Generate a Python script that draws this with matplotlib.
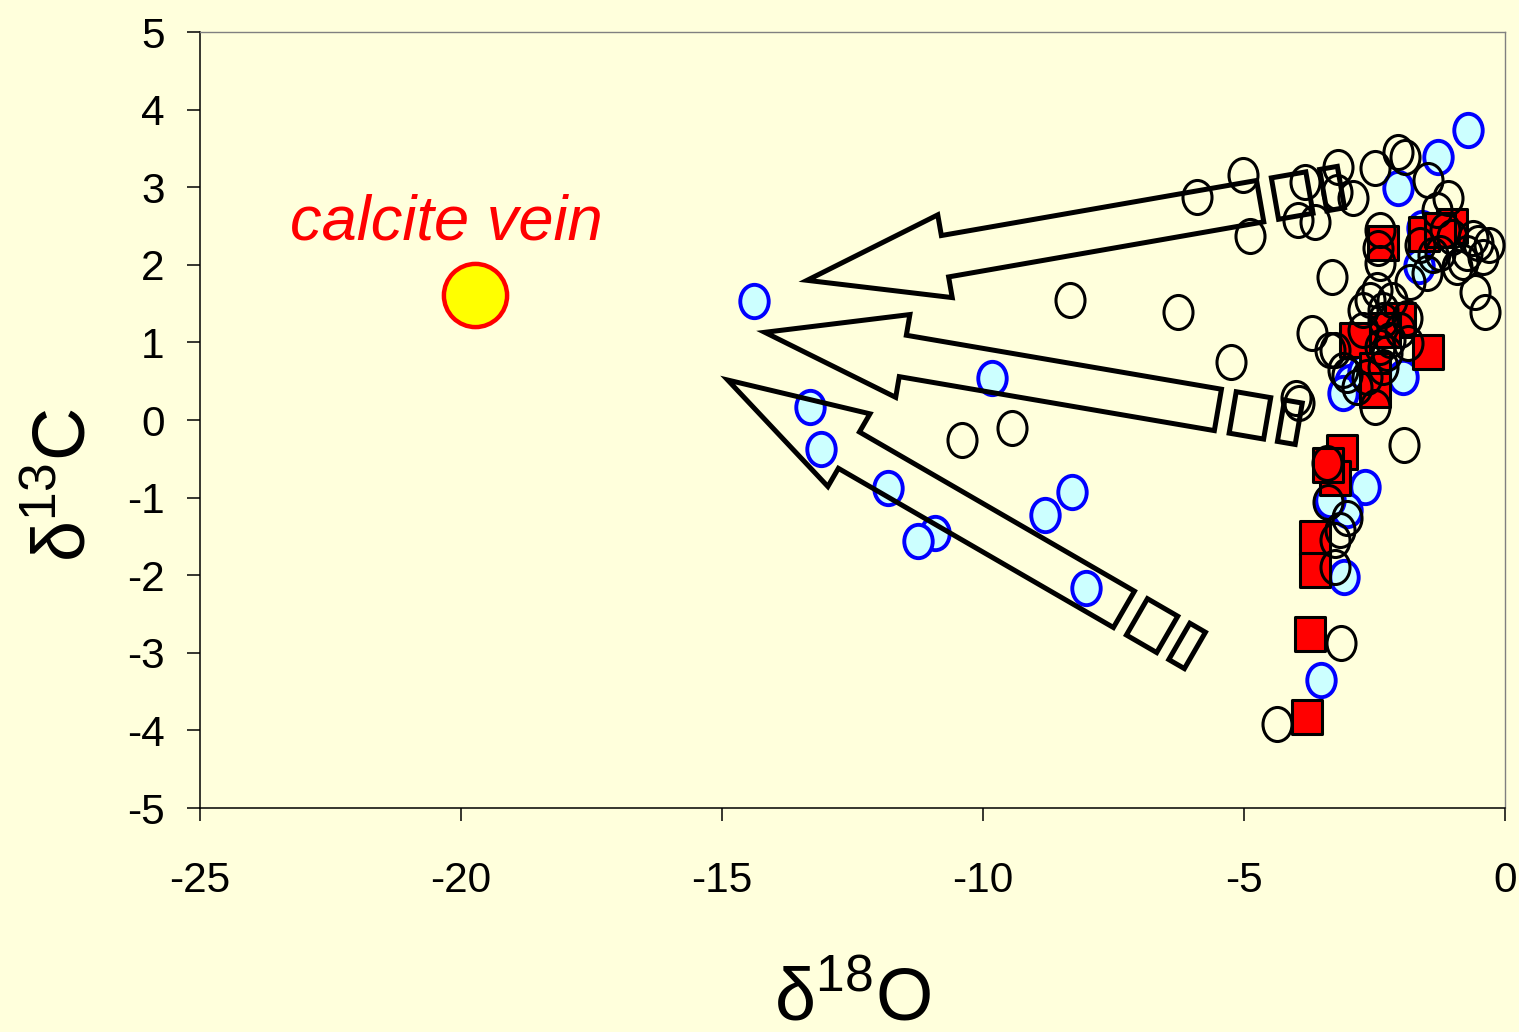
import numpy as np
import matplotlib
matplotlib.use('Agg')
import matplotlib.pyplot as plt
from matplotlib.path import Path
from matplotlib.patches import Polygon

plt.rcParams['font.family'] = ['Liberation Sans', 'DejaVu Sans']
plt.rcParams['axes.unicode_minus'] = False
plt.rcParams['mathtext.fontset'] = 'custom'
plt.rcParams['mathtext.rm'] = 'Liberation Sans'

BG = '#FFFFDC'

# open black circles
black_x = [-5.90, -5.02, -4.89, -8.33, -6.26, -5.25, -4.00, -3.95, -10.40, -9.44, -4.37, -3.14, -1.93,
           -3.83, -3.20, -3.22, -2.91, -3.97, -3.64, -2.49, -2.05, -1.92, -1.48, -1.09, -1.30, -3.31, -3.70,
           -2.39, -2.39, -2.43, -1.25, -1.02, -0.92, -0.80, -0.73, -0.52, -0.42, -0.57, -0.38, -1.49, -1.82,
           -1.38, -1.63, -2.16, -2.34, -2.72, -2.45, -2.59, -1.88, -1.86, -2.26, -2.72, -2.34, -2.01, -3.35,
           -3.26, -3.10, -3.03, -2.84, -2.64, -2.34, -2.39, -2.49, -2.20, -3.41, -3.39, -3.03, -3.16, -3.26,
           -3.26, -0.30, -0.62, -1.15]
black_y = [2.87, 3.16, 2.37, 1.55, 1.39, 0.75, 0.28, 0.22, -0.26, -0.10, -3.92, -2.87, -0.32,
           3.07, 3.26, 2.94, 2.86, 2.58, 2.55, 3.25, 3.45, 3.39, 3.09, 2.86, 2.71, 1.84, 1.12,
           2.45, 2.02, 2.22, 2.15, 2.36, 1.97, 2.04, 2.15, 2.28, 2.10, 1.65, 1.39, 1.89, 1.78,
           2.13, 2.26, 1.55, 1.42, 1.42, 1.68, 1.55, 1.31, 0.99, 0.86, 1.16, 1.29, 1.16, 0.90,
           0.90, 0.64, 0.58, 0.43, 0.55, 0.68, 0.94, 0.17, 1.03, -0.55, -1.06, -1.26, -1.42, -1.55,
           -1.89, 2.25, 2.35, 2.45]

# light blue circles
blue_x = [-0.71, -1.28, -2.05, -1.59, -1.65, -14.39, -9.83, -13.31, -13.10, -11.82, -10.92, -11.25,
          -8.81, -8.30, -8.03, -2.68, -3.03, -3.35, -3.08, -3.52, -1.95, -2.97, -3.10, -2.72]
blue_y = [3.74, 3.39, 2.99, 2.47, 1.98, 1.53, 0.54, 0.17, -0.37, -0.88, -1.46, -1.56,
          -1.22, -0.93, -2.16, -0.86, -1.16, -1.03, -2.02, -3.35, 0.55, 0.49, 0.35, 0.62]

# red squares
red_x = [-2.34, -1.02, -1.55, -1.25, -2.01, -1.48, -2.87, -2.49, -2.49, -2.30, -3.12, -3.26, -3.39,
         -3.64, -3.64, -3.74, -3.79]
red_y = [2.28, 2.50, 2.40, 2.45, 1.29, 0.88, 1.03, 0.64, 0.39, 1.16, -0.41, -0.75, -0.58,
         -1.52, -1.93, -2.76, -3.83]

vein_x, vein_y = -19.73, 1.61

# arrows: tip and end of body
arrow_tips = [(-13.37, 1.80), (-14.18, 1.13), (-14.89, 0.515)]
arrow_ends = [(-4.69, 2.82), (-5.50, 0.13), (-7.30, -2.44)]

fig = plt.figure(figsize=(15.19, 10.32), dpi=100, facecolor=BG)
ax = fig.add_axes([200 / 1519, 224 / 1032, 1305 / 1519, 776 / 1032], facecolor=BG)
ax.set_xlim(-25, 0)
ax.set_ylim(-5, 5)

# slightly tall markers like the original
circ = Path.unit_circle()
ell = Path(circ.vertices * [0.853, 1.0], circ.codes)
sq = Path(np.array([[-0.4265, -0.5], [0.4265, -0.5], [0.4265, 0.5], [-0.4265, 0.5], [-0.4265, -0.5]]),
          [Path.MOVETO, Path.LINETO, Path.LINETO, Path.LINETO, Path.CLOSEPOLY])

ax.plot(blue_x, blue_y, ls='none', marker=ell, ms=24, mfc='#CCFFFF', mec='#0000FF', mew=2.8, zorder=2)
ax.plot(red_x, red_y, ls='none', marker=sq, ms=24.5, mfc='#FF0000', mec='black', mew=2.2, zorder=3)
ax.plot(black_x, black_y, ls='none', marker=ell, ms=24.5, mfc='none', mec='black', mew=2.2, zorder=4)
ax.plot(vein_x, vein_y, ls='none', marker='o', ms=45.5, mfc='#FFFF00', mec='#FF0000', mew=3.2, zorder=4)

ax.text(-23.28, 2.32, 'calcite vein', color='#FF0000', fontsize=45.5, style='italic',
        ha='left', va='baseline')


def hollow_arrow(tip, end, hw=21, hh=42, hl=140, pieces=((15, 50), (64, 82))):
    t = ax.transData
    p_tip = t.transform(tip)
    p_end = t.transform(end)
    u = (p_tip - p_end) / np.hypot(*(p_tip - p_end))
    n = np.array([-u[1], u[0]])
    base = p_tip - u * hl
    shapes = [[p_end + n * hw, base + n * hw, base + n * hh, p_tip,
               base - n * hh, base - n * hw, p_end - n * hw]]
    for a, b in pieces:
        s0 = p_end - u * a
        s1 = p_end - u * b
        shapes.append([s0 + n * hw, s1 + n * hw, s1 - n * hw, s0 - n * hw])
    for verts in shapes:
        ax.add_patch(Polygon(t.inverted().transform(np.array(verts)), closed=True, fill=False,
                             ec='black', lw=3.6, joinstyle='miter', zorder=5))


for tip, end in zip(arrow_tips, arrow_ends):
    hollow_arrow(tip, end)

ax.set_xticks(range(-25, 1, 5))
ax.set_yticks(range(-5, 6))
ax.tick_params(axis='both', direction='out', length=9.5, width=1.1, labelsize=30.5, colors='black')
ax.tick_params(axis='x', pad=29)
ax.tick_params(axis='y', pad=16)
for s in ('left', 'bottom'):
    ax.spines[s].set_linewidth(1.1)
    ax.spines[s].set_color('black')
for s in ('top', 'right'):
    ax.spines[s].set_linewidth(1.0)
    ax.spines[s].set_color('#808080')

fig.text(852 / 1519, 1 - 1020 / 1032, r'δ$^{\mathregular{18}}$O', fontsize=53,
         ha='center', va='baseline')
fig.text(85 / 1519, 1 - 485 / 1032, r'δ$^{\mathregular{13}}$C', fontsize=53,
         ha='center', va='baseline', rotation=90, rotation_mode='anchor')

fig.savefig('out.png', dpi=100, facecolor=BG)
